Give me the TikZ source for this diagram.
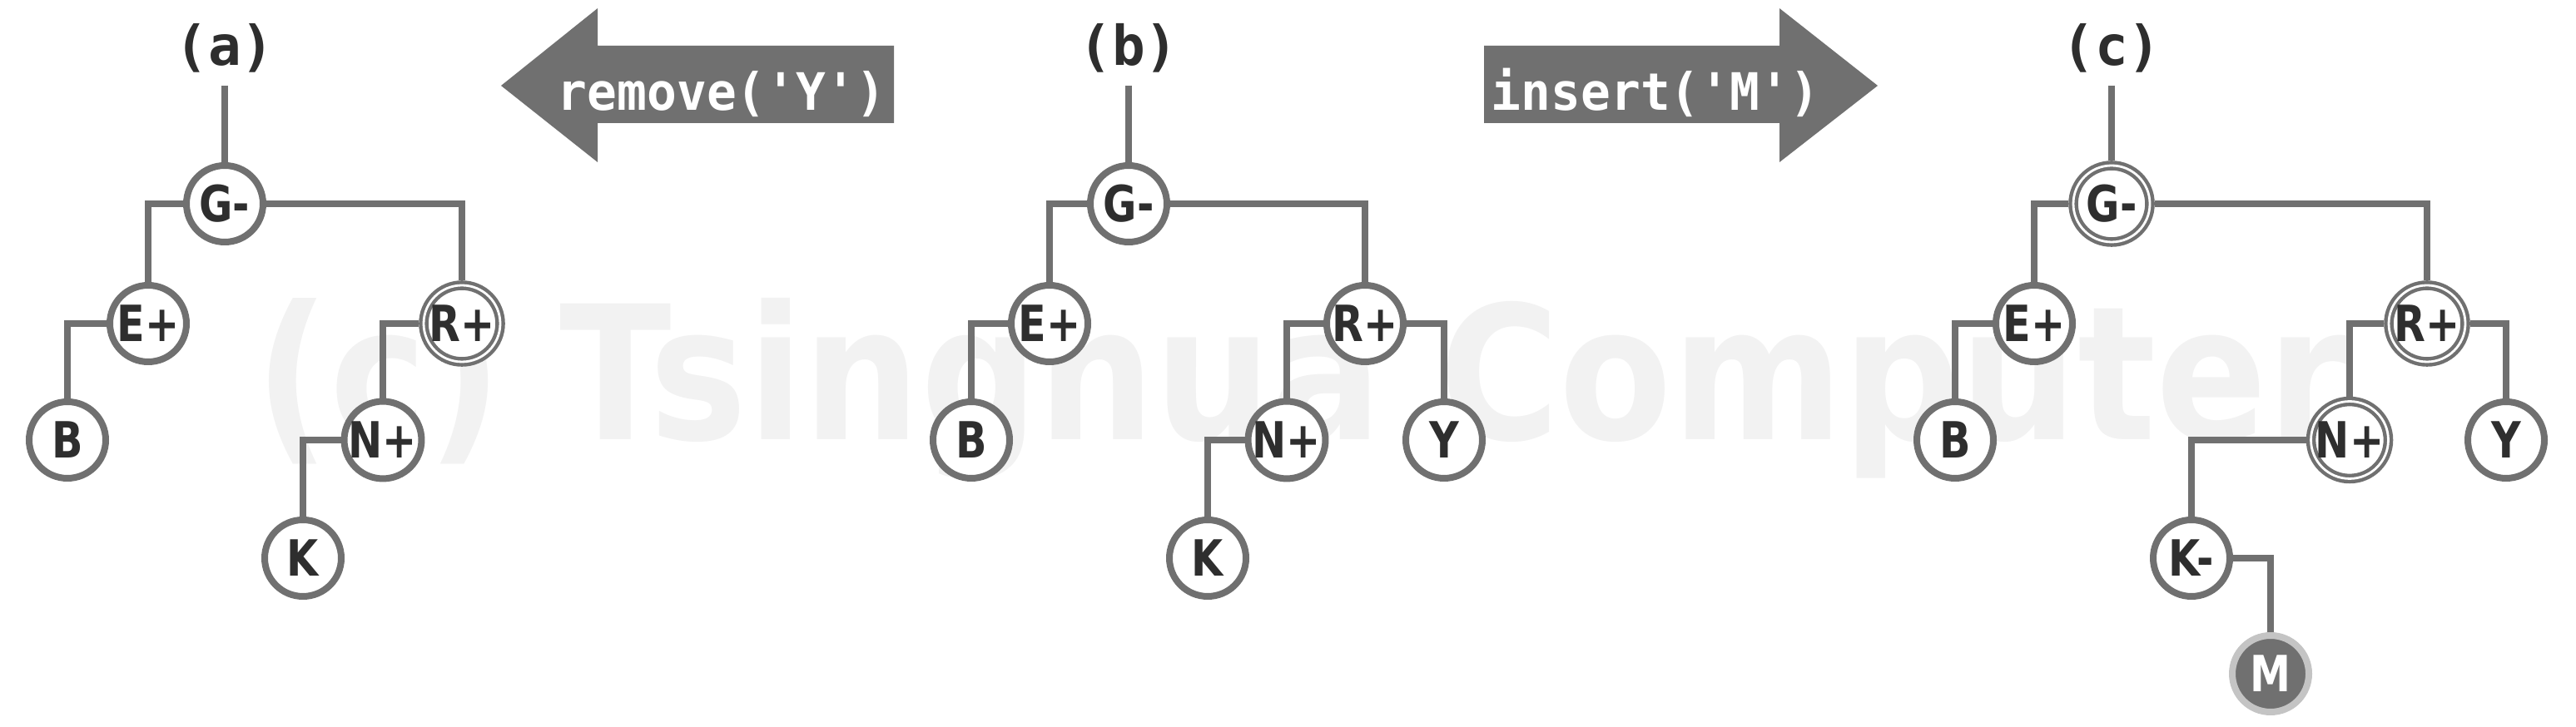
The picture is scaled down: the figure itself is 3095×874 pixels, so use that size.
\documentclass[tikz,border=0pt]{standalone}
\usepackage{fontspec}
\usepackage{graphicx}
\setmainfont{DejaVu Sans}
\newfontfamily\nodefont{DejaVu Sans}[FakeStretch=0.82]
\newfontfamily\wmfont{DejaVu Sans}[FakeStretch=0.88]
\newfontfamily\monofont{DejaVu Sans Mono}
\definecolor{edgegray}{HTML}{707070}
\definecolor{txtdark}{HTML}{2E2E2E}
\definecolor{wmgray}{HTML}{F2F2F2}
\definecolor{ringlight}{HTML}{C4C4C4}
\begin{document}
\begin{tikzpicture}[x=0.25pt,y=-0.25pt,
  tnode/.style={circle, draw=edgegray, line width=2pt, fill=white, minimum size=23pt, inner sep=0pt,
    font=\nodefont\bfseries\fontsize{15pt}{15pt}\selectfont, text=txtdark},
  dnode/.style={tnode, line width=1.1pt, double=white, double distance=0.7pt, outer sep=1.45pt},
  newnode/.style={tnode, fill=edgegray, draw=ringlight, text=white},
  link/.style={draw=edgegray, line width=2pt},
  plabel/.style={font=\monofont\bfseries\fontsize{16.5pt}{16.5pt}\selectfont, text=txtdark, anchor=base},
  optext/.style={font=\monofont\bfseries\fontsize{15.5pt}{15.5pt}\selectfont, text=white, anchor=base},
  oparrow/.style={fill=edgegray, draw=none}]
\useasboundingbox (0,0) rectangle (3095,874);
% watermark
\node[font=\wmfont\bfseries\fontsize{56pt}{56pt}\selectfont, text=wmgray, anchor=base] (wm) at (1564,529) {(c) Tsinghua Computer};

% operation arrows
\fill[oparrow] (602,103) -- (718,10) -- (718,55) -- (1074,55) -- (1074,148) -- (718,148) -- (718,195) -- cycle;
\node[optext] (rmtext) at (867,133) {\scalebox{0.96}[1]{remove('Y')}};
\fill[oparrow] (1783,55) -- (2138,55) -- (2138,10) -- (2256,103) -- (2138,195) -- (2138,148) -- (1783,148) -- cycle;
\node[optext] (instext) at (1989,133) {\scalebox{0.96}[1]{insert('M')}};

% panel (a)
\node[plabel] (la) at (270,79) {(a)};
\coordinate (aTop) at (270,103);
\node[tnode] (aG) at (270,245) {G-};
\node[tnode] (aE) at (178,389) {E+};
\node[dnode] (aR) at (555,389) {R+};
\node[tnode] (aB) at (81,529) {B};
\node[tnode] (aN) at (460,529) {N+};
\node[tnode] (aK) at (364,671) {K};
\draw[link] (aTop) -- (aG.north);
\draw[link] (aG.west) -| (aE.north);
\draw[link] (aG.east) -| (aR.north);
\draw[link] (aE.west) -| (aB.north);
\draw[link] (aR.west) -| (aN.north);
\draw[link] (aN.west) -| (aK.north);

% panel (b)
\node[plabel] (lb) at (1356,79) {(b)};
\coordinate (bTop) at (1356,103);
\node[tnode] (bG) at (1356,245) {G-};
\node[tnode] (bE) at (1261,389) {E+};
\node[tnode] (bR) at (1640,389) {R+};
\node[tnode] (bB) at (1167,529) {B};
\node[tnode] (bN) at (1546,529) {N+};
\node[tnode] (bY) at (1735,529) {Y};
\node[tnode] (bK) at (1451,671) {K};
\draw[link] (bTop) -- (bG.north);
\draw[link] (bG.west) -| (bE.north);
\draw[link] (bG.east) -| (bR.north);
\draw[link] (bE.west) -| (bB.north);
\draw[link] (bR.west) -| (bN.north);
\draw[link] (bR.east) -| (bY.north);
\draw[link] (bN.west) -| (bK.north);

% panel (c)
\node[plabel] (lc) at (2537,79) {(c)};
\coordinate (cTop) at (2537,103);
\node[dnode] (cG) at (2537,245) {G-};
\node[tnode] (cE) at (2444,389) {E+};
\node[dnode] (cR) at (2916,389) {R+};
\node[tnode] (cB) at (2349,529) {B};
\node[dnode] (cN) at (2823,529) {N+};
\node[tnode] (cY) at (3011,529) {Y};
\node[tnode] (cK) at (2633,671) {K-};
\node[newnode] (cM) at (2728,810) {M};
\draw[link] (cTop) -- (cG.north);
\draw[link] (cG.west) -| (cE.north);
\draw[link] (cG.east) -| (cR.north);
\draw[link] (cE.west) -| (cB.north);
\draw[link] (cR.west) -| (cN.north);
\draw[link] (cR.east) -| (cY.north);
\draw[link] (cN.west) -| (cK.north);
\draw[link] (cK.east) -| (cM.north);
\end{tikzpicture}
\end{document}
